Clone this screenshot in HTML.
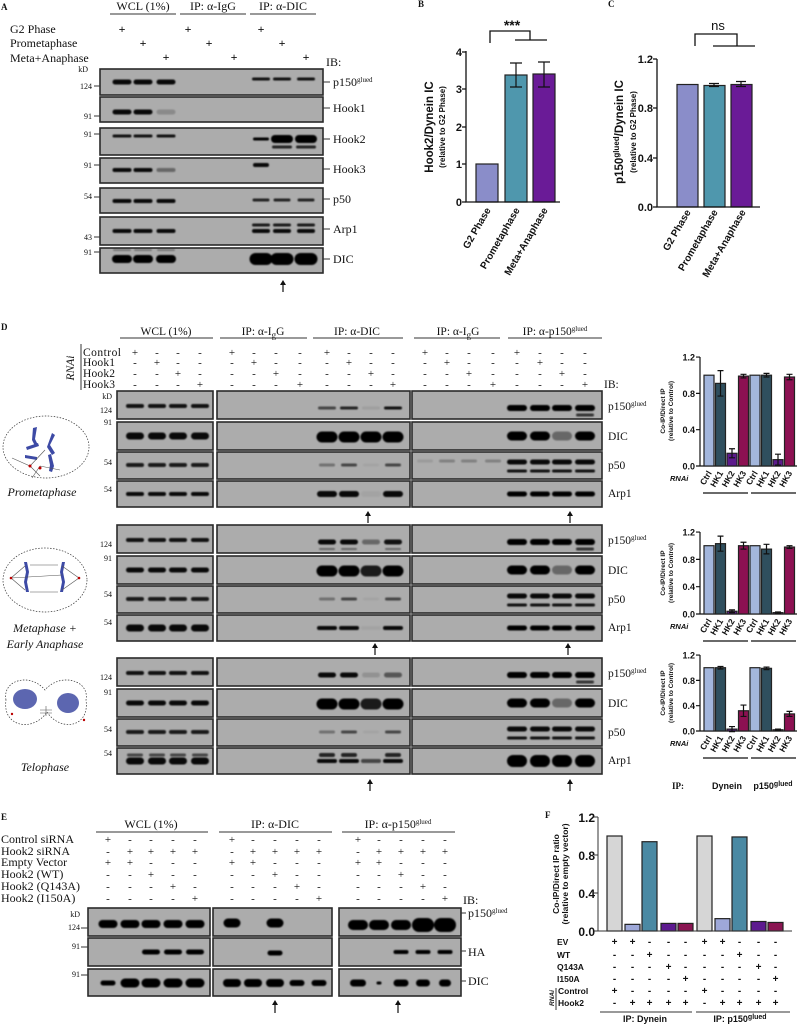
<!DOCTYPE html>
<html><head><meta charset="utf-8">
<style>
html,body{margin:0;padding:0;background:#fff;}
svg{display:block;}
.s{font-family:"Liberation Serif",serif;fill:#111;}
.a{font-family:"Liberation Sans",sans-serif;font-weight:bold;fill:#111;}
</style></head><body>
<svg id="g" width="799" height="1025" viewBox="0 0 799 1025" xmlns="http://www.w3.org/2000/svg">
<defs><filter id="bl" x="-20%" y="-50%" width="140%" height="200%"><feGaussianBlur stdDeviation="0.9"/></filter></defs>
<g id="blots"></g>
<g id="bands" filter="url(#bl)"></g>
<g id="bars"></g>

<!-- ===== Panel A ===== -->
<g class="s" font-size="12">
<text x="1" y="10" font-weight="bold" font-size="9">A</text>
<text x="143" y="10" text-anchor="middle">WCL (1%)</text>
<text x="213" y="10" text-anchor="middle">IP: α-IgG</text>
<text x="283" y="10" text-anchor="middle">IP: α-DIC</text>
<text x="10" y="33">G2 Phase</text>
<text x="10" y="47">Prometaphase</text>
<text x="10" y="62">Meta+Anaphase</text>
<g font-size="12" text-anchor="middle" font-weight="bold">
<text x="122" y="33">+</text><text x="188" y="33">+</text><text x="261" y="33">+</text>
<text x="143" y="47">+</text><text x="209" y="47">+</text><text x="282" y="47">+</text>
<text x="166" y="61">+</text><text x="234" y="61">+</text><text x="306" y="61">+</text>
</g>
<text x="326" y="66">IB:</text>
<g font-size="8" text-anchor="end">
<text x="88" y="72">kD</text><text x="92" y="89">124</text><text x="92" y="119">91</text>
<text x="92" y="137">91</text><text x="92" y="168">91</text><text x="92" y="199">54</text>
<text x="92" y="240">43</text><text x="92" y="255">91</text>
</g>
<text x="333" y="86">p150<tspan font-size="7" dy="-4">glued</tspan></text>
<text x="333" y="112">Hook1</text><text x="333" y="143">Hook2</text><text x="333" y="173">Hook3</text>
<text x="333" y="203">p50</text><text x="333" y="233">Arp1</text><text x="333" y="263">DIC</text>
</g>
<g stroke="#333" stroke-width="1">
<line x1="110" y1="14" x2="176" y2="14"/><line x1="180" y1="14" x2="246" y2="14"/><line x1="250" y1="14" x2="316" y2="14"/>
<line x1="94" y1="86" x2="100" y2="86"/><line x1="94" y1="116" x2="100" y2="116"/><line x1="94" y1="134" x2="100" y2="134"/>
<line x1="94" y1="165" x2="100" y2="165"/><line x1="94" y1="197" x2="100" y2="197"/><line x1="94" y1="237" x2="100" y2="237"/><line x1="94" y1="252" x2="100" y2="252"/>
<line x1="323" y1="82" x2="330" y2="82"/><line x1="323" y1="108" x2="330" y2="108"/><line x1="323" y1="139" x2="330" y2="139"/>
<line x1="323" y1="169" x2="330" y2="169"/><line x1="323" y1="199" x2="330" y2="199"/><line x1="323" y1="229" x2="330" y2="229"/><line x1="323" y1="259" x2="330" y2="259"/>
</g>

<!-- ===== Panel B ===== -->
<g class="a">
<text x="418" y="7" font-size="9" font-family="Liberation Serif">B</text>
<text x="512" y="30" font-size="14" text-anchor="middle">***</text>
<g font-size="11" text-anchor="end"><text x="462" y="56">4</text><text x="462" y="93">3</text><text x="462" y="131">2</text><text x="462" y="168">1</text><text x="462" y="206">0</text></g>
<text transform="translate(433,127) rotate(-90)" font-size="11.5" text-anchor="middle">Hook2/Dynein IC</text>
<text transform="translate(445,127) rotate(-90)" font-size="8" text-anchor="middle">(relative to G2 Phase)</text>
<g font-size="10" text-anchor="end">
<text transform="translate(491,210) rotate(-60)">G2 Phase</text>
<text transform="translate(520,210) rotate(-60)">Prometaphase</text>
<text transform="translate(548,210) rotate(-60)">Meta+Anaphase</text>
</g>
<!-- C -->
<text x="608" y="7" font-size="9" font-family="Liberation Serif">C</text>
<text x="718" y="30" font-size="13" text-anchor="middle" font-weight="normal">ns</text>
<g font-size="11" text-anchor="end"><text x="653" y="63">1.2</text><text x="653" y="112">0.8</text><text x="653" y="162">0.4</text><text x="653" y="211">0.0</text></g>
<text transform="translate(623,132) rotate(-90)" font-size="11.5" text-anchor="middle">p150<tspan font-size="8" dy="-4">glued</tspan><tspan dy="4">/Dynein IC</tspan></text>
<text transform="translate(636,132) rotate(-90)" font-size="8" text-anchor="middle">(relative to G2 Phase)</text>
<g font-size="10" text-anchor="end">
<text transform="translate(691,212) rotate(-60)">G2 Phase</text>
<text transform="translate(718,212) rotate(-60)">Prometaphase</text>
<text transform="translate(746,212) rotate(-60)">Meta+Anaphase</text>
</g>
</g>
<g stroke="#111" stroke-width="1.3" fill="none">
<path d="M466 51V202H560"/><path d="M462 52H466M462 89H466M462 127H466M462 164H466M462 202H466"/>
<path d="M490 43V31H530V40M515 40H547"/>
<path d="M657 59V207H760"/><path d="M653 59H657M653 108H657M653 158H657M653 207H657"/>
<path d="M695 46V34H737V46M713 46H755"/>
</g>

<!-- ===== Panel D ===== -->
<g class="s" font-size="11.5">
<text x="1" y="330" font-weight="bold" font-size="9">D</text>
<text x="166" y="335" text-anchor="middle">WCL (1%)</text>
<text x="263" y="335" text-anchor="middle">IP: α-I<tspan font-size="9" dy="3">g</tspan><tspan dy="-3">G</tspan></text>
<text x="357" y="335" text-anchor="middle">IP: α-DIC</text>
<text x="458" y="335" text-anchor="middle">IP: α-I<tspan font-size="9" dy="3">g</tspan><tspan dy="-3">G</tspan></text>
<text x="555" y="335" text-anchor="middle">IP: α-p150<tspan font-size="7" dy="-4">glued</tspan></text>
<text transform="translate(74,368) rotate(-90)" text-anchor="middle" font-style="italic">RNAi</text>
<text x="83" y="356" textLength="38">Control</text><text x="83" y="366" textLength="32">Hook1</text><text x="83" y="377" textLength="32">Hook2</text><text x="83" y="388" textLength="32">Hook3</text>
<text x="604" y="388">IB:</text>
<g id="dsigns" font-size="11" text-anchor="middle"></g>
<g font-size="8" text-anchor="end">
<text x="112" y="399">kD</text><text x="112" y="413">124</text><text x="112" y="425">91</text><text x="112" y="465">54</text><text x="112" y="492">54</text>
<text x="112" y="547">124</text><text x="112" y="561">91</text><text x="112" y="597">54</text><text x="112" y="625">54</text>
<text x="112" y="680">124</text><text x="112" y="695">91</text><text x="112" y="732">54</text><text x="112" y="756">54</text>
</g>
<text x="608" y="410">p150<tspan font-size="7" dy="-4">glued</tspan></text><text x="608" y="440">DIC</text><text x="608" y="469">p50</text><text x="608" y="497">Arp1</text>
<text x="608" y="544">p150<tspan font-size="7" dy="-4">glued</tspan></text><text x="608" y="574">DIC</text><text x="608" y="603">p50</text><text x="608" y="631">Arp1</text>
<text x="608" y="677">p150<tspan font-size="7" dy="-4">glued</tspan></text><text x="608" y="707">DIC</text><text x="608" y="736">p50</text><text x="608" y="764">Arp1</text>
<g font-style="italic" font-size="12" text-anchor="middle">
<text x="42" y="496">Prometaphase</text>
<text x="45" y="632">Metaphase +</text><text x="45" y="648">Early Anaphase</text>
<text x="45" y="771">Telophase</text>
</g>
</g>
<g stroke="#333" stroke-width="1">
<line x1="120" y1="338" x2="213" y2="338"/><line x1="220" y1="338" x2="307" y2="338"/><line x1="313" y1="338" x2="403" y2="338"/>
<line x1="414" y1="338" x2="500" y2="338"/><line x1="508" y1="338" x2="602" y2="338"/>
<line x1="81" y1="344" x2="81" y2="390"/>
</g>

<!-- cells -->
<g stroke="#333" stroke-width="0.7" fill="none" stroke-dasharray="1.5,1.5">
<ellipse cx="46" cy="447" rx="43" ry="31"/>
<ellipse cx="45" cy="580" rx="42" ry="32"/>
<path d="M6 700C2 680 30 672 45 690C60 672 90 680 86 700C90 728 60 732 47 712C34 732 2 728 6 700Z"/>
</g>
<g fill="#3d4aa5" stroke="none">
<path d="M33 428l4 -1 -2 12 3 6 -3 1 -3 -6z"/><path d="M52 433l3 2 -5 10 5 8 -3 2 -5 -8z"/>
<path d="M26 447l12 -4 1 3 -12 4z"/><path d="M48 455l3 -1 3 12 -2 6 -3 -1 1 -6z"/><path d="M25 455l12 2 0 3 -12 -2z"/>
<path d="M24 562l3 0 2 10 -2 10 2 10 -3 0 -2 -10 2 -10z"/><path d="M62 562l3 0 -2 10 2 10 -2 10 -3 0 2 -10 -2 -10z"/>
<ellipse cx="25" cy="699" rx="12" ry="10" fill="#5c66b0"/><ellipse cx="68" cy="703" rx="11" ry="10" fill="#5c66b0"/>
</g>
<g stroke="#555" stroke-width="0.6" fill="none">
<path d="M12 458L30 466L45 450M30 466L40 476M40 466L60 470M40 466L32 478"/>
<path d="M11 578L25 566M11 578L25 590M11 578L62 575M79 578L62 566M79 578L62 590M30 565H58M30 592H58"/>
<path d="M40 710H52M40 713H52M46 706V716"/>
</g>
<g fill="#b00"><circle cx="30" cy="466" r="1.5"/><circle cx="40" cy="468" r="1.5"/><circle cx="11" cy="578" r="1.3"/><circle cx="79" cy="578" r="1.3"/><circle cx="12" cy="714" r="1.2"/><circle cx="84" cy="720" r="1.2"/></g>

<!-- D charts text -->
<g class="a">
<g font-size="9" text-anchor="end" id="dtick"></g>
<g font-size="6.5" text-anchor="middle">
<text transform="translate(665,411) rotate(-90)">Co-IP/Direct IP</text><text transform="translate(673,411) rotate(-90)">(relative to Control)</text>
<text transform="translate(665,573) rotate(-90)">Co-IP/Direct IP</text><text transform="translate(673,573) rotate(-90)">(relative to Control)</text>
<text transform="translate(665,693) rotate(-90)">Co-IP/Direct IP</text><text transform="translate(673,693) rotate(-90)">(relative to Control)</text>
</g>
<g font-size="7.5" font-style="italic"><text x="670" y="481">RNAi</text><text x="670" y="629">RNAi</text><text x="670" y="746">RNAi</text></g>
<g id="dlab" font-size="8.5" text-anchor="end"></g>
<text x="672" y="789" font-size="9" class="s" font-weight="bold">IP:</text>
<text x="727" y="789" font-size="9" text-anchor="middle">Dynein</text>
<text x="773" y="789" font-size="9" text-anchor="middle">p150<tspan font-size="7" dy="-3">glued</tspan></text>
</g>

<!-- ===== Panel E ===== -->
<g class="s" font-size="12">
<text x="1" y="820" font-weight="bold" font-size="9">E</text>
<text x="151" y="828" text-anchor="middle">WCL (1%)</text>
<text x="275" y="828" text-anchor="middle">IP: α-DIC</text>
<text x="398" y="828" text-anchor="middle">IP: α-p150<tspan font-size="7" dy="-4">glued</tspan></text>
<text x="1" y="843">Control siRNA</text><text x="1" y="855">Hook2 siRNA</text><text x="1" y="866">Empty Vector</text>
<text x="1" y="878">Hook2 (WT)</text><text x="1" y="890">Hook2 (Q143A)</text><text x="1" y="902">Hook2 (I150A)</text>
<text x="463" y="904">IB:</text>
<g id="esigns" font-size="11" text-anchor="middle"></g>
<g font-size="8" text-anchor="end"><text x="80" y="917">kD</text><text x="80" y="930">124</text><text x="80" y="949">91</text><text x="80" y="977">91</text></g>
<text x="468" y="917">p150<tspan font-size="7" dy="-4">glued</tspan></text><text x="468" y="956">HA</text><text x="468" y="985">DIC</text>
</g>
<g stroke="#333" stroke-width="1">
<line x1="96" y1="832" x2="208" y2="832"/><line x1="219" y1="832" x2="332" y2="832"/><line x1="342" y1="832" x2="455" y2="832"/>
<line x1="81" y1="928" x2="88" y2="928"/><line x1="81" y1="947" x2="88" y2="947"/><line x1="81" y1="975" x2="88" y2="975"/>
<line x1="461" y1="913" x2="466" y2="913"/><line x1="461" y1="951" x2="466" y2="951"/><line x1="461" y1="981" x2="466" y2="981"/>
</g>

<!-- ===== Panel F ===== -->
<g class="a">
<text x="545" y="818" font-size="9" font-family="Liberation Serif">F</text>
<g font-size="12" text-anchor="end"><text x="595" y="822">1.2</text><text x="595" y="860">0.8</text><text x="595" y="898">0.4</text><text x="595" y="936">0.0</text></g>
<text transform="translate(559,874) rotate(-90)" font-size="8.5" text-anchor="middle">Co-IP/Direct IP ratio</text>
<text transform="translate(568,874) rotate(-90)" font-size="8.5" text-anchor="middle">(relative to empty vector)</text>
<g font-size="8.5"><text x="557" y="945">EV</text><text x="557" y="958">WT</text><text x="557" y="970">Q143A</text><text x="557" y="982">I150A</text><text x="558" y="994">Control</text><text x="558" y="1006">Hook2</text></g>
<text transform="translate(554,1006) rotate(-90)" font-size="6.5" font-style="italic">RNAi</text>
<g id="fsigns" font-size="10" text-anchor="middle"></g>
<text x="645" y="1022" font-size="9" text-anchor="middle">IP: Dynein</text>
<text x="740" y="1022" font-size="9" text-anchor="middle">IP: p150<tspan font-size="7" dy="-3">glued</tspan></text>
</g>
<g stroke="#333" stroke-width="1" fill="none">
<path d="M598 817V931H792"/><path d="M594 817H598M594 855H598M594 893H598M594 931H598"/>
<line x1="556" y1="988" x2="556" y2="1010"/>
<line x1="600" y1="1012" x2="692" y2="1012"/><line x1="696" y1="1012" x2="790" y2="1012"/>
</g>
<g id="arrows" fill="#111" stroke="#111"></g>
</svg>
<script>
var NS="http://www.w3.org/2000/svg";
function el(p,t,a,txt){var e=document.createElementNS(NS,t);for(var k in a)e.setAttribute(k,a[k]);if(txt!=null)e.textContent=txt;document.getElementById(p).appendChild(e);return e;}
function box(x1,y1,x2,y2){el("blots","rect",{x:x1,y:y1,width:x2-x1,height:y2-y1,fill:"#acacac",stroke:"#2a2a2a","stroke-width":1.6});}
function B(x,y,w,h,o){el("bands","rect",{x:x-w/2,y:y-h/2,width:w,height:h,rx:h/2,fill:"#000","fill-opacity":o});}
var rowsA=[[69,95],[97,122],[128,155],[158,183],[188,213],[217,245],[248,273]];
rowsA.forEach(function(r){box(100,r[0],323,r[1]);});
var W=[122,143,166],D=[261,282,306];
W.forEach(function(x,i){B(x,82,19,5,.95);B(x,112,19,5,i<2?.95:.2);B(x,136,19,3,.9);B(x,170,19,4,i<2?.95:.4);B(x,201,19,4,.95);B(x,231,19,4,.95);B(x,259,20,8,1);B(x,250,18,2,.3);});
D.forEach(function(x,i){B(x,79,18,3,.9);B(x,139,i?22:16,i?8:3,1);if(i)B(x,147,20,3,.8);if(i==0)B(x,165,16,4,.95);B(x,200,17,3,.8);B(x,225,18,3,.85);B(x,231,18,4,.95);B(x,259,23,12,1);});
function bar(x,w,ytop,y0,c){el("bars","rect",{x:x,y:ytop,width:w,height:y0-ytop,fill:c,stroke:"#222","stroke-width":1.2});}
function err(cx,yt,yb,w){el("bars","path",{d:"M"+(cx-w)+" "+yt+"H"+(cx+w)+"M"+cx+" "+yt+"V"+yb+"M"+(cx-w)+" "+yb+"H"+(cx+w),stroke:"#111","stroke-width":1.2,fill:"none"});}
bar(476,22,164,202,"#8a8dc9");bar(505,22,75,202,"#4f97ad");bar(533,22,74,202,"#6a1b97");
err(516,63,87,6);err(544,62,87,6);
var c1=207-147/1.2;
bar(677,21,c1,207,"#8a8dc9");bar(704,21,c1+1,207,"#4f97ad");bar(731,21,c1,207,"#6a1b97");
err(714,c1-1,c1+2,5);err(741,c1-3,c1+2,5);
var groups=[391,525,658],rel=[[0,28],[31,59],[61,88],[90,116]];
var LW=[135,157,178,200],LD=[327,349,371,393],LI=[425,447,469,493],LP=[517,540,562,585];
groups.forEach(function(g,gi){rel.forEach(function(r){box(117,g+r[0],213,g+r[1]);box(217,g+r[0],410,g+r[1]);box(412,g+r[0],602,g+r[1]);});
 LW.forEach(function(x){B(x,g+15,18,4,.9);B(x,g+45,18,gi==0?7:5,.95);B(x,g+74,18,4,.85);B(x,g+103,18,gi==0?4:7,.95);if(gi==2)B(x,g+97,16,3,.6);});
 var pd=[[.6,.8,.08,.9],[.95,.95,.4,.9],[.95,.95,.15,.5]][gi];
 LD.forEach(function(x,i){B(x,g+17,18,gi?5:3,pd[i]);if(gi==1&&i!=2)B(x,g+24,16,2,.4);B(x,g+46,21,11,i==2&&gi?.85:1);B(x,g+74,16,3,[.35,.6,.05,.6][i]);B(x,g+103,20,gi==0?6:4,i==2?(gi==2?.6:.05):.95);if(gi==2&&i!=2)B(x,g+97,16,4,.8);});
 if(gi==0)LI.forEach(function(x,i){B(x,g+70,16,3,i?.25:.1);});
 LP.forEach(function(x,i){B(x,g+17,20,6,1);if(i==3)B(x,g+24,18,3,.7);B(x,g+45,20,9,i==2?.4:1);B(x,g+71,20,5,.95);B(x,g+80,20,3,.9);B(x,g+103,20,gi==2?12:5,1);});
});
var lanes=[LW,LI.map(function(x){return x-193}),LD,LI,LP],ry=[356,366,377,388];
lanes.forEach(function(L){L.forEach(function(x,li){ry.forEach(function(y,ri){el("dsigns","text",{x:x,y:y},li==ri?"+":"-");});});});
var charts=[[466,90.8,[1,.91,.14,.99,1,1,.07,.98],[0,.14,.05,.02,0,.02,.06,.03]],[614,68.3,[1,1.03,.04,1,1,.95,.02,.98],[0,.11,.02,.05,0,.07,.01,.02]],[731,63.3,[1,1,.03,.32,1,.99,.02,.27],[0,.02,.04,.09,0,.02,.01,.04]]];
var cols=["#a3b6dc","#2f4f5e","#5c1b8c","#8c1152"],labs=["Ctrl","HK1","HK2","HK3"];
charts.forEach(function(c){var y0=c[0],k=c[1];
 el("bars","path",{d:"M700 "+(y0-1.2*k)+"V"+y0+"H797M696 "+y0+"H700M696 "+(y0-.4*k)+"H700M696 "+(y0-.8*k)+"H700M696 "+(y0-1.2*k)+"H700",stroke:"#111","stroke-width":1.2,fill:"none"});
 [["0.0",0],["0.4",.4],["0.8",.8],["1.2",1.2]].forEach(function(t){el("dtick","text",{x:695,y:y0-t[1]*k+3.5},t[0]);});
 c[2].forEach(function(v,i){var x=704+i*11.5;bar(x,10,y0-v*k,y0,cols[i%4]);if(c[3][i])err(x+5,y0-(v+c[3][i])*k,y0-(v-c[3][i])*k,3);
  el("dlab","text",{transform:"translate("+(x+8)+","+(y0+7)+") rotate(-60)"},labs[i%4]);});
 el("bars","path",{d:"M703 "+(y0+27)+"H748M751 "+(y0+27)+"H796",stroke:"#111","stroke-width":1.2});
});
var ER=[[908,936],[938,966],[969,996]];
ER.forEach(function(r){box(88,r[0],210,r[1]);box(213,r[0],332,r[1]);box(339,r[0],461,r[1]);});
var EW=[108,130,151,173,195],ED=[232,253,275,297,319],EP=[358,379,401,423,445];
EW.forEach(function(x,i){B(x,924,19,8,1);if(i>1)B(x,952,18,5,1);B(x,983,i?19:15,i?9:5,1);});
ED.forEach(function(x,i){if(i==0||i==2)B(x,923,17,9,1);if(i==2)B(x,953,15,5,1);B(x,983,i>2?15:18,i>2?6:8,1);});
EP.forEach(function(x,i){B(x,925,i>2?22:20,i>2?14:10,1);if(i>1)B(x,952,15,4,1);B(x,983,[16,5,15,14,12][i],i==1?3:7,1);});
var es=[["+","-","-","-","-"],["-","+","+","+","+"],["+","+","-","-","-"],["-","-","+","-","-"],["-","-","-","+","-"],["-","-","-","-","+"]],ey=[843,855,866,878,890,902];
[EW,ED,EP].forEach(function(L){L.forEach(function(x,li){es.forEach(function(r,ri){el("esigns","text",{x:x,y:ey[ri]},r[li]);});});});
var fx=[607,625,642,661,678,697,715,732,751,768],fv=[1,.07,.94,.08,.08,1,.13,.99,.1,.09],fc=["#d6d6d6","#9ea8d9","#4a89a3","#5d1a8f","#8a1552","#d6d6d6","#9ea8d9","#4a89a3","#5d1a8f","#8a1552"];
fx.forEach(function(x,i){bar(x,15,931-fv[i]*95,931,fc[i]);});
var fs=[["+","+","-","-","-"],["-","-","+","-","-"],["-","-","-","+","-"],["-","-","-","-","+"],["+","-","-","-","-"],["-","+","+","+","+"]],fy=[945,958,970,982,994,1006];
fx.forEach(function(x,i){fs.forEach(function(r,ri){el("fsigns","text",{x:x+7.5,y:fy[ri]},r[i%5]);});});
function arr(x,y1,y2){el("arrows","line",{x1:x,y1:y1+3,x2:x,y2:y2,"stroke-width":1.2});el("arrows","path",{d:"M"+(x-3)+" "+(y1+5)+"L"+x+" "+y1+"L"+(x+3)+" "+(y1+5)+"Z",stroke:"none"});}
arr(283,280,292);arr(368,511,523);arr(570,511,523);arr(375,643,655);arr(568,643,655);arr(370,779,791);arr(570,779,791);arr(275,1000,1013);arr(398,1000,1013);
</script>
</body></html>
